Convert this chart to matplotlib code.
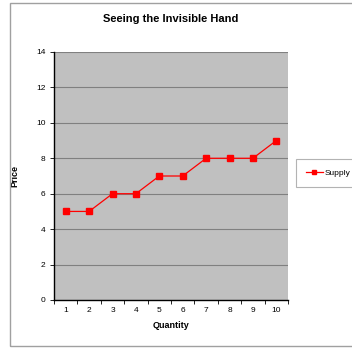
import matplotlib.pyplot as plt
from matplotlib.patches import Rectangle

plt.rcParams['font.family'] = ['Liberation Sans', 'DejaVu Sans']

quantity = [1, 2, 3, 4, 5, 6, 7, 8, 9, 10]
price = [5, 5, 6, 6, 7, 7, 8, 8, 8, 9]

fig = plt.figure(figsize=(3.52, 3.49), dpi=100)
fig.patches.append(Rectangle((10 / 352, 3 / 349), 1.0, 343 / 349,
                             transform=fig.transFigure, fill=False,
                             edgecolor='#a0a0a0', linewidth=1))

ax = fig.add_axes([54 / 352, 49 / 349, 234 / 352, 248 / 349])
ax.set_facecolor('#c0c0c0')
ax.plot(quantity, price, color='red', marker='s', markersize=4, linewidth=0.9,
        label='Supply')

ax.set_xlim(0.5, 10.5)
ax.set_ylim(0, 14)
ax.set_yticks(range(0, 15, 2))
ax.set_xticks(quantity)
ax.set_xticks([q + 0.5 for q in range(0, 11)], minor=True)
ax.tick_params(axis='x', which='major', length=0, labelsize=6, pad=5)
ax.tick_params(axis='x', which='minor', length=3, width=0.6)
ax.tick_params(axis='y', length=3, width=0.6, labelsize=6, pad=3)
ax.yaxis.grid(True, color='#808080', linewidth=0.8)
ax.set_axisbelow(True)

for s in ['top', 'right']:
    ax.spines[s].set_visible(False)
ax.spines['left'].set_linewidth(1)
ax.spines['bottom'].set_linewidth(1)

ax.set_xlabel('Quantity', fontsize=6.5, fontweight='bold', labelpad=5)
ax.set_ylabel('Price', fontsize=6.5, fontweight='bold', labelpad=12)
fig.text(0.5 * (54 + 288) / 352, 1 - 19 / 349, 'Seeing the Invisible Hand',
         ha='center', va='center', fontsize=8, fontweight='bold')

leg = ax.legend(loc='center left', bbox_to_anchor=(296 / 352, 176 / 349),
                bbox_transform=fig.transFigure, borderaxespad=0, fontsize=6,
                frameon=True, fancybox=False, edgecolor='#a0a0a0',
                handlelength=2.0, handletextpad=0.25, borderpad=1.2,
                markerscale=0.8)
leg.get_frame().set_linewidth(0.8)

fig.savefig('out.png', dpi=100)
